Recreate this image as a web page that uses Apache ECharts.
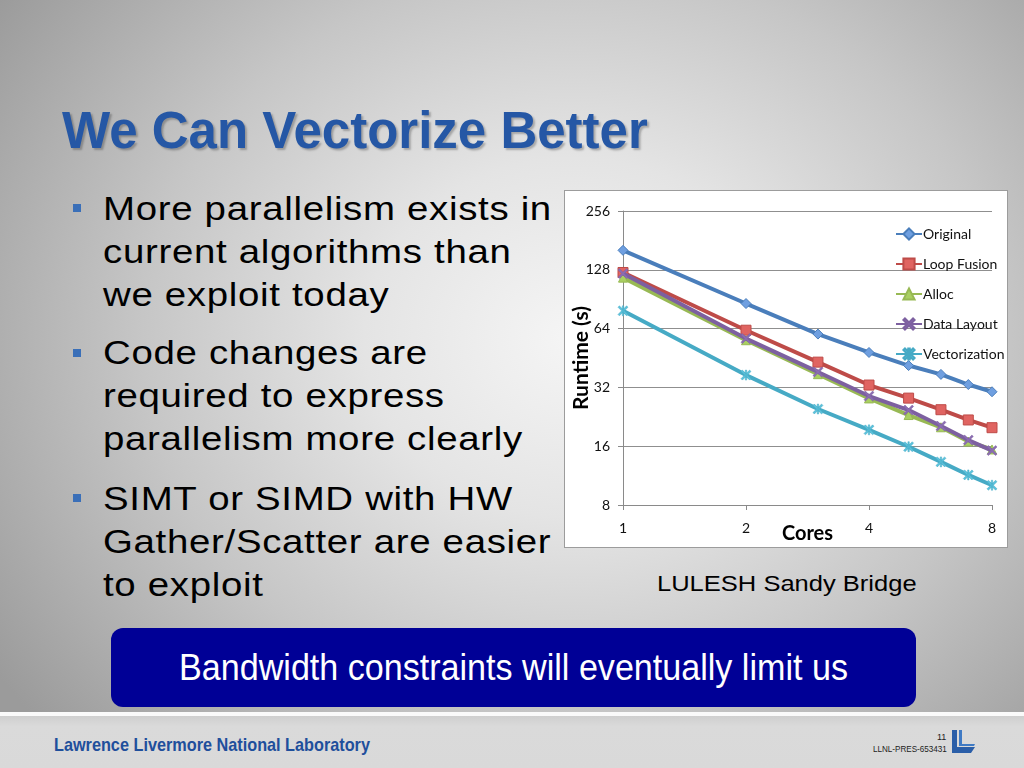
<!DOCTYPE html>
<html>
<head>
<meta charset="utf-8">
<script src="https://cdn.jsdelivr.net/npm/echarts@6/dist/echarts.min.js"></script>
<style>
  html, body { margin:0; padding:0; }
  body { width:1024px; height:768px; position:relative; overflow:hidden;
    background: radial-gradient(ellipse 68% 78% at 56% 44%, #f5f5f5 0%, #e4e4e4 30%, #c6c6c6 62%, #9b9b9b 100%);
    font-family: "Liberation Sans", Arial, sans-serif; }
  .abs { position:absolute; white-space:nowrap; transform-origin: 0 0; }
  #title { left:62px; top:101px; font-size:51px; font-weight:bold; color:#2557a5;
    text-shadow: 2px 2px 2px rgba(0,0,0,0.25); }
  .bul { left:103px; font-size:34px; line-height:43px; color:#000; letter-spacing:0.6px; transform: scaleX(1.13); }
  .sq { position:absolute; left:73px; width:8px; height:8px; background:#3a6fb8; }
  #chartbox { position:absolute; left:564px; top:190px; width:444px; height:358px; background:#fff;
    border:1px solid #9c9c9c; box-sizing:border-box; }
  #chart { width:442px; height:356px; }
  #caption { left:657px; top:571px; font-size:22px; color:#000; transform: scaleX(1.16); }
  #bluebox { position:absolute; left:111px; top:628px; width:805px; height:79px; background:#000096;
    border-radius:12px; }
  #bluetext { left:0; width:805px; top:19px; text-align:center;
    font-size:36px; color:#fff; transform: scaleX(0.947); transform-origin: 50% 0; }
  #whiteline { position:absolute; left:0; top:712px; width:1024px; height:4px; background:#fafafa; }
  #footer { position:absolute; left:0; top:716px; width:1024px; height:52px; background:linear-gradient(#cfcfcf, #dadada 20%, #d9d9d9); }
  #lab { left:54px; top:734px; font-weight:bold; font-size:19px; color:#1f4f9c; transform: scaleX(0.855); }
  #pg { left:937px; top:732px; font-size:9px; color:#222; }
  #pres { left:873px; top:744px; font-size:9px; color:#222; transform: scaleX(0.9); }
</style>
</head>
<body>
<div id="title" class="abs">We Can Vectorize Better</div>

<div class="sq" style="top:204px"></div>
<div class="abs bul" style="top:187px">More parallelism exists in<br>current algorithms than<br>we exploit today</div>
<div class="sq" style="top:349px"></div>
<div class="abs bul" style="top:331px">Code changes are<br>required to express<br>parallelism more clearly</div>
<div class="sq" style="top:494px"></div>
<div class="abs bul" style="top:477px">SIMT or SIMD with HW<br>Gather/Scatter are easier<br>to exploit</div>

<div id="chartbox"><div id="chart"></div></div>
<div id="caption" class="abs">LULESH Sandy Bridge</div>

<div id="bluebox"><div id="bluetext" class="abs">Bandwidth constraints will eventually limit us</div></div>

<div id="whiteline"></div>
<div id="footer"></div>
<div id="lab" class="abs">Lawrence Livermore National Laboratory</div>
<div id="pg" class="abs">11</div>
<div id="pres" class="abs">LLNL-PRES-653431</div>
<svg class="abs" style="left:951px;top:730px" width="26" height="24" viewBox="0 0 26 24">
  <path d="M1,0 L6,0 L6,17 L24,17 L20,23 L1,23 Z" fill="#2a5ea8"/>
  <path d="M8,0 L11,0 L11,14 L24,14 L23,16 L8,16 Z" fill="#3f7ac4"/>
</svg>

<script>
const cores = [1, 2, 3, 4, 5, 6, 7, 8];
const seriesNames = ['Original', 'Loop Fusion', 'Alloc', 'Data Layout', 'Vectorization'];
const original      = [161, 86, 60, 48.3, 41.4, 37.3, 33.1, 30.4];
const loopFusion    = [124, 62.8, 43.1, 32.9, 28.2, 24.6, 21.8, 19.9];
const alloc         = [116.7, 55.8, 37.4, 28.1, 23.1, 20.0, 16.9, 15.4];
const dataLayout    = [122.4, 56.9, 38.4, 28.9, 24.5, 20.3, 17.2, 15.2];
const vectorization = [78.9, 37.0, 24.8, 19.4, 15.9, 13.3, 11.4, 10.1];
const yTicks = [8, 16, 32, 64, 128, 256];
const xTicks = [1, 2, 4, 8];

const colors = ['#4a7ebb', '#be4b48', '#98b954', '#7d60a0', '#46aac5'];
const fills  = ['#6f9fe0', '#e06461', '#a9cf62', '#8b6cb2', '#5cc2dc'];
const xPath = 'path://M0,1.4 L1.4,0 L5,3.6 L8.6,0 L10,1.4 L6.4,5 L10,8.6 L8.6,10 L5,6.4 L1.4,10 L0,8.6 L3.6,5 Z';
const starPath = 'path://M0,1.4 L1.4,0 L5,3.6 L8.6,0 L10,1.4 L6.4,5 L10,8.6 L8.6,10 L5,6.4 L1.4,10 L0,8.6 L3.6,5 Z M4.3,0 L5.7,0 L5.7,10 L4.3,10 Z';
const symbols = ['diamond', 'rect', 'triangle', xPath, starPath];
const sizes = [10, 10, 9, 10, 10];
const values = [original, loopFusion, alloc, dataLayout, vectorization];

const chart = echarts.init(document.getElementById('chart'));
const font = 'Lato, "Open Sans", sans-serif';
chart.setOption({
  animation: false,
  grid: { left: 58, top: 20, right: 15, bottom: 42, outerBoundsMode: 'none', containLabel: false },
  legend: {
    orient: 'vertical', left: 325, top: 31,
    itemWidth: 26, itemHeight: 14, itemGap: 16,
    data: seriesNames,
    textStyle: { fontFamily: font, fontSize: 14, color: '#111', padding: [0, 0, 0, -4] }
  },
  xAxis: {
    type: 'log', logBase: 2, min: 1, max: 8,
    name: 'Cores', nameLocation: 'middle', nameGap: 19, nameMoveOverlap: false,
    nameTextStyle: { fontFamily: font, fontSize: 20, fontWeight: 'bold', color: '#000' },
    axisLine: { lineStyle: { color: '#8a8a8a', width: 1 } },
    axisTick: { show: true, length: 5, lineStyle: { color: '#8a8a8a' } },
    axisLabel: { fontFamily: font, fontSize: 14, color: '#111', margin: 16,
      formatter: v => xTicks.includes(Math.round(v)) ? String(Math.round(v)) : '' },
    splitLine: { show: false }
  },
  yAxis: {
    type: 'log', logBase: 2, min: 8, max: 256,
    name: 'Runtime (s)', nameLocation: 'middle', nameGap: 31, nameRotate: 90, nameMoveOverlap: false,
    nameTextStyle: { fontFamily: font, fontSize: 21, fontWeight: 'bold', color: '#000' },
    axisLine: { show: true, lineStyle: { color: '#8a8a8a', width: 1 } },
    axisTick: { show: true, length: 5, lineStyle: { color: '#8a8a8a' } },
    axisLabel: { fontFamily: font, fontSize: 14, color: '#111', margin: 13,
      formatter: v => yTicks.includes(Math.round(v)) ? String(Math.round(v)) : '' },
    splitLine: { show: true, lineStyle: { color: '#8f8f8f', width: 1 } }
  },
  series: seriesNames.map((name, i) => ({
    name, type: 'line',
    data: cores.map((c, j) => [c, values[i][j]]),
    symbol: symbols[i], symbolSize: sizes[i],
    lineStyle: { color: colors[i], width: 4 },
    itemStyle: { color: fills[i], borderColor: colors[i], borderWidth: (i >= 3 ? 0.5 : 1) },
    z: 2 + i
  }))
});
</script>
</body>
</html>
